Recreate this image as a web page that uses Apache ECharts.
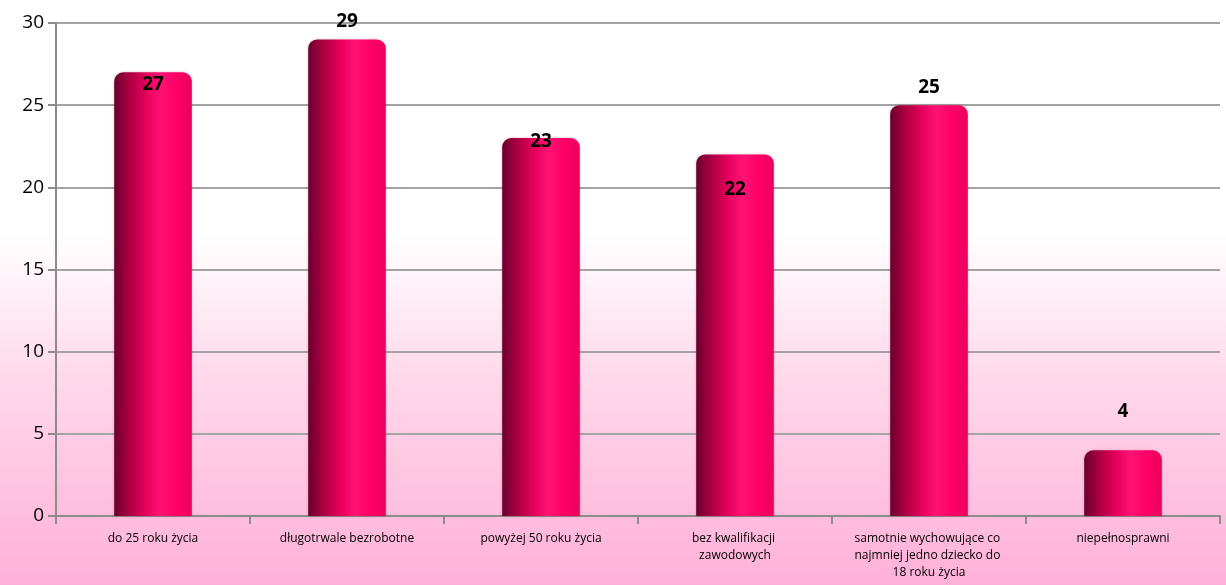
<!DOCTYPE html>
<html>
<head>
<meta charset="utf-8">
<script src="https://cdn.jsdelivr.net/npm/echarts@6/dist/echarts.min.js"></script>
<style>
html,body{margin:0;padding:0;}
body{background:linear-gradient(to bottom,#ffffff 0%,#ffffff 40%,#ffd8ea 65%,#ffb0d8 100%);}
#chart{width:1226px;height:585px;}
</style>
</head>
<body>
<div id="chart"></div>
<script>
var categories = ['do 25 roku życia', 'długotrwale bezrobotne', 'powyżej 50 roku życia', 'bez kwalifikacji zawodowych', 'samotnie wychowujące co najmniej jedno dziecko do 18 roku życia', 'niepełnosprawni'];
var values = [27, 29, 23, 22, 25, 4];
var yTicks = {min: 0, max: 30, interval: 5};

// label placement style per bar (mimicking the original layout)
var labelPlacement = [
  {position: 'insideTop', distance: 3},
  {position: 'top', distance: 8},
  {position: 'insideTop', distance: -6},
  {position: 'insideTop', distance: 26},
  {position: 'top', distance: 8},
  {position: 'top', distance: 29}
];

var barColor = new echarts.graphic.LinearGradient(0, 0, 1, 0, [
  {offset: 0, color: '#6a002e'},
  {offset: 0.18, color: '#a8003f'},
  {offset: 0.42, color: '#e8005c'},
  {offset: 0.6, color: '#ff1273'},
  {offset: 0.8, color: '#ff0066'},
  {offset: 1, color: '#ea005e'}
]);

var chart = echarts.init(document.getElementById('chart'));
chart.setOption({
  animation: false,
  textStyle: {fontFamily: 'Open Sans'},
  grid: {left: 56, right: 6, top: 23, bottom: 69, containLabel: false},
  xAxis: {
    type: 'category',
    data: categories,
    axisLine: {lineStyle: {color: '#8c8c8c', width: 2}},
    axisTick: {show: true, length: 8, lineStyle: {color: '#8c8c8c', width: 2}},
    axisLabel: {
      color: '#000', fontSize: 12, margin: 14, interval: 0,
      width: 155, overflow: 'break', lineHeight: 17, fontFamily: 'Open Sans'
    }
  },
  yAxis: {
    type: 'value',
    min: yTicks.min, max: yTicks.max, interval: yTicks.interval,
    axisLine: {show: true, lineStyle: {color: '#8c8c8c', width: 2}},
    axisTick: {show: true, length: 8, lineStyle: {color: '#8c8c8c', width: 2}},
    splitLine: {lineStyle: {color: '#a3a3a3', width: 2}},
    axisLabel: {color: '#000', fontSize: 19, margin: 12, fontFamily: 'Open Sans'}
  },
  series: [{
    type: 'bar',
    barWidth: '40%',
    data: values.map(function (v, i) {
      return {
        value: v,
        label: {
          show: true,
          position: labelPlacement[i].position,
          distance: labelPlacement[i].distance,
          color: '#000', fontSize: 19, fontWeight: 'bold', fontFamily: 'Open Sans'
        }
      };
    }),
    itemStyle: {
      color: barColor,
      borderRadius: [9, 9, 0, 0],
      shadowColor: 'rgba(120,0,50,0.25)', shadowBlur: 3
    }
  }]
});
</script>
</body>
</html>
